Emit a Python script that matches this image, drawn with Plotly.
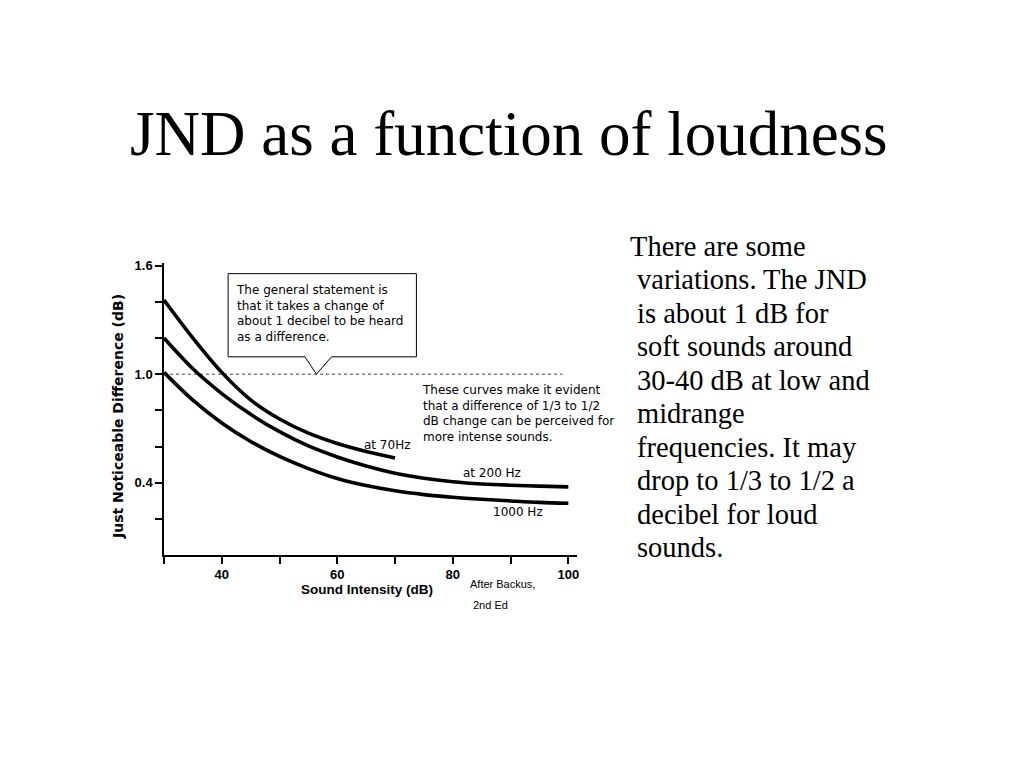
import plotly.graph_objects as go

# ---- data ----
x70 = [30, 35, 40, 45, 50, 55, 60, 65, 70]
y70 = [1.41, 1.20, 1.01, 0.858, 0.752, 0.674, 0.617, 0.573, 0.537]

x200 = [30, 35, 40, 45, 50, 55, 60, 65, 70, 75, 80, 85, 90, 95, 100]
y200 = [1.20, 1.03, 0.893, 0.778, 0.682, 0.603, 0.542, 0.492, 0.452, 0.424, 0.405, 0.393, 0.386, 0.381, 0.377]

x1000 = [30, 35, 40, 45, 50, 55, 60, 65, 70, 75, 80, 85, 90, 95, 100]
y1000 = [1.01, 0.856, 0.73, 0.628, 0.545, 0.478, 0.423, 0.384, 0.355, 0.334, 0.319, 0.308, 0.299, 0.291, 0.286]

series_names = ["at 70Hz", "at 200 Hz", "1000 Hz"]

x_tickvals = [30, 40, 50, 60, 70, 80, 90, 100]
x_ticktext = ["", "40", "", "60", "", "80", "", "100"]
y_tickvals = [0.2, 0.4, 0.6, 0.8, 1.0, 1.2, 1.4, 1.6]
y_ticktext = ["", "0.4", "", "", "1.0", "", "", "1.6"]

ref_level = 1.0

title_text = "JND as a function of loudness"
side_lines = ["There are some", "variations. The JND", "is about 1 dB for", "soft sounds around",
              "30-40 dB at low and", "midrange", "frequencies. It may", "drop to 1/3 to 1/2 a",
              "decibel for loud", "sounds."]

# ---- layout geometry (page has an 8px body margin) ----
OFF = 8
W, H = 1024 - OFF, 768 - OFF
L, T = 164 - OFF, 263 - OFF
PW, PH = 413, 292
R, B = W - L - PW, H - T - PH


def px(xp):
    return (xp - OFF - L) / PW


def py(yp):
    return (H - B - (yp - OFF)) / PH


fig = go.Figure()
for xs, ys, nm in [(x70, y70, series_names[0]), (x200, y200, series_names[1]), (x1000, y1000, series_names[2])]:
    fig.add_trace(go.Scatter(x=xs, y=ys, mode="lines", name=nm,
                             line=dict(color="black", width=3.6, shape="spline", smoothing=1.0),
                             showlegend=False, hoverinfo="skip"))

# dotted 1 dB reference line
fig.add_shape(type="line", x0=30, x1=99, y0=ref_level, y1=ref_level,
              line=dict(color="#444444", width=1, dash="dot"), layer="below")

# callout box with pointer
fig.add_shape(type="path",
              path="M 41.1,1.556 L 73.7,1.556 L 73.7,1.096 L 59.0,1.096 L 56.4,1.0 L 54.4,1.096 L 41.1,1.096 Z",
              line=dict(color="black", width=1), fillcolor="white", layer="above")

small_font = dict(family="DejaVu Sans, sans-serif", size=12, color="black")
serif = "Liberation Serif, Times New Roman, serif"

annotations = [
    dict(x=px(509), y=py(134), text=title_text,
         font=dict(family=serif, size=63, color="black"), xanchor="center", yanchor="middle"),
    dict(x=px(234), y=py(313.5),
         text="The general statement is<br>that it takes a change of<br>about 1 decibel to be heard<br>as a difference.",
         font=small_font, xanchor="left", yanchor="middle", align="left"),
    dict(x=px(420), y=py(413.5),
         text="These curves make it evident<br>that a difference of 1/3 to 1/2<br>dB change can be perceived for<br>more intense sounds.",
         font=small_font, xanchor="left", yanchor="middle", align="left"),
    dict(x=px(412), y=py(445), text=series_names[0], font=small_font, xanchor="right", yanchor="middle"),
    dict(x=px(461), y=py(473), text=series_names[1], font=small_font, xanchor="left", yanchor="middle"),
    dict(x=px(491), y=py(512), text=series_names[2], font=small_font, xanchor="left", yanchor="middle"),
    dict(x=px(367), y=py(589), text="Sound Intensity (dB)",
         font=dict(family="Liberation Sans, Arial, sans-serif", size=13.5, color="black", weight="bold"),
         xanchor="center", yanchor="middle"),
    dict(x=px(118), y=py(417), text="Just Noticeable Difference (dB)",
         font=dict(family="DejaVu Sans, sans-serif", size=14, color="black", weight="bold"),
         textangle=-90, xanchor="center", yanchor="middle"),
    dict(x=px(468), y=py(584), text="After Backus,",
         font=dict(family="Liberation Sans, Arial, sans-serif", size=11, color="black"),
         xanchor="left", yanchor="middle"),
    dict(x=px(471), y=py(605), text="2nd Ed",
         font=dict(family="Liberation Sans, Arial, sans-serif", size=11, color="black"),
         xanchor="left", yanchor="middle"),
]
for i, line in enumerate(side_lines):
    annotations.append(dict(x=px(628 if i == 0 else 635), y=py(246 + i * 33.55), text=line,
                            font=dict(family=serif, size=28.5, color="black"),
                            xanchor="left", yanchor="middle", align="left"))
for a in annotations:
    a.update(xref="paper", yref="paper", showarrow=False)

axis_common = dict(showgrid=False, zeroline=False, showline=True, linecolor="black", linewidth=1.5,
                   ticks="outside", ticklen=7, tickwidth=1.5, tickcolor="black",
                   tickfont=dict(family="Liberation Sans, Arial, sans-serif", size=13, color="black",
                                 weight="bold"))

fig.update_layout(
    width=W, height=H,
    margin=dict(l=L, r=R, t=T, b=B, pad=0),
    paper_bgcolor="white", plot_bgcolor="white",
    xaxis=dict(range=[30, 101.5], tickmode="array", tickvals=x_tickvals, ticktext=x_ticktext, **axis_common),
    yaxis=dict(range=[0, 1.615], tickmode="array", tickvals=y_tickvals, ticktext=y_ticktext, **axis_common),
    annotations=annotations,
)

fig.write_html("out.html")
